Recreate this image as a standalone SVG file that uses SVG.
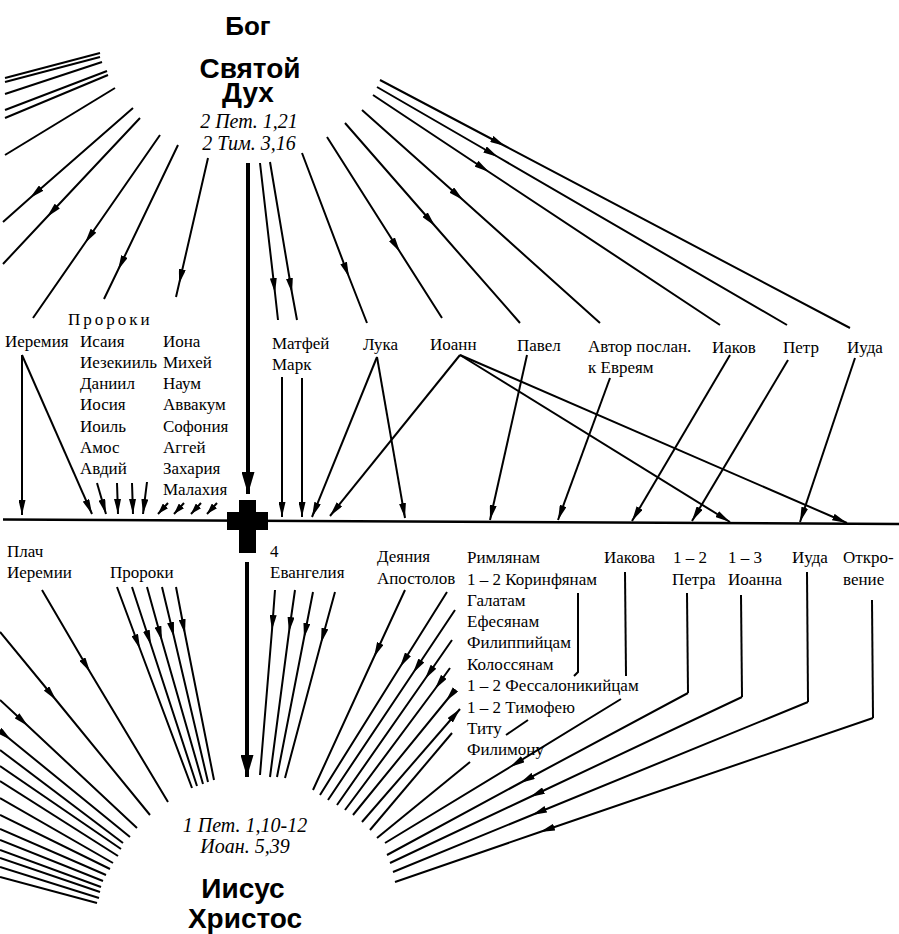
<svg xmlns="http://www.w3.org/2000/svg" width="899" height="934" viewBox="0 0 899 934">
<style>
.t{font-family:"Liberation Serif","Times New Roman",serif;font-size:17px;fill:#000}
.h{font-family:"Liberation Sans",Arial,sans-serif;font-weight:bold;font-size:28px;text-anchor:middle;fill:#000}
.r{font-family:"Liberation Serif","Times New Roman",serif;font-style:italic;font-size:20px;text-anchor:middle;fill:#000}
.c{fill:none;stroke:#000;stroke-width:2}
.a{marker-end:url(#ah)}
.m{marker-mid:url(#ah)}
.s{marker-end:url(#ahs)}
.k{fill:none;stroke:#000;stroke-width:4;marker-end:url(#ahb)}
</style>
<defs>
<marker id="ah" viewBox="0 0 15 7" refX="15" refY="3.5" markerWidth="15" markerHeight="7" markerUnits="userSpaceOnUse" orient="auto"><path d="M0,0 L15,3.5 L0,7 z" fill="#000"/></marker>
<marker id="ahs" viewBox="0 0 11 7" refX="11" refY="3.5" markerWidth="11" markerHeight="7" markerUnits="userSpaceOnUse" orient="auto"><path d="M0,0 L11,3.5 L0,7 z" fill="#000"/></marker>
<marker id="ahb" viewBox="0 0 22 13" refX="22" refY="6.5" markerWidth="22" markerHeight="13" markerUnits="userSpaceOnUse" orient="auto"><path d="M0,0 L22,6.5 L0,13 z" fill="#000"/></marker>
</defs>
<rect width="899" height="934" fill="#fff"/>
<g id="connectors">
<g class="c">
<path d="M5,78 L100,53"/><path d="M5,82 L100,57"/><path d="M5,94 L102,62"/><path d="M5,110 L107,71"/><path d="M5,118 L108,75"/><path d="M5,155 L115,88"/>
</g>
<g class="c m">
<path d="M133,108 L30,198 L3,222"/>
<path d="M140,118 L47,217 L3,264"/>
<path d="M160,135 L85,243 L33,318"/>
<path d="M178,145 L118,270 L104,299"/>
<path d="M208,158 L179,284 L176,297"/>
<path d="M260,163 L275,293 L278,320"/>
<path d="M270,162 L292,293 L297,320"/>
<path d="M302,153 L349,277 L367,323"/>
<path d="M327,137 L400,252 L442,318"/>
<path d="M345,123 L435,226 L520,323"/>
<path d="M362,110 L463,200 L600,323"/>
<path d="M373,95 L489,172 L720,325"/>
<path d="M377,87 L498,157 L787,325"/>
<path d="M380,80 L505,146 L850,328"/>
</g>
<path class="k" d="M248,163 L248,494"/>
<g class="c a">
<path d="M22,355 L22,515"/><path d="M22,355 L92,514"/>
<path d="M97,483 L106,514"/><path d="M117,483 L118,514"/><path d="M132,483 L133,514"/><path d="M147,482 L143,514"/>
<path d="M282,377 L282,517"/><path d="M302,378 L302,517"/>
<path d="M377,357 L312,517"/><path d="M377,357 L405,518"/>
<path d="M460,355 L330,516"/><path d="M460,355 L730,522"/><path d="M460,355 L847,523"/>
<path d="M527,355 L490,520"/><path d="M610,378 L558,520"/><path d="M730,355 L632,521"/><path d="M788,360 L692,521"/><path d="M855,358 L800,522"/>
<path d="M362,822 L460,709"/>
</g>
<g class="c s">
<path d="M168,503 L158,514"/><path d="M184,503 L174,514"/><path d="M201,503 L191,514"/><path d="M217,503 L207,514"/>
</g>
<path d="M3,519.5 L899,524" fill="none" stroke="#000" stroke-width="2.5"/>
<path class="k" d="M247,562 L247,777"/>
<g class="c m">
<path d="M42,590 L90,672 L168,802"/>
<path d="M117,587 L140,649 L192,788"/>
<path d="M132,587 L151,645 L197,786"/>
<path d="M147,587 L162,641 L203,784"/>
<path d="M162,587 L174,637 L208,782"/>
<path d="M176,587 L185,634 L214,780"/>
<path d="M0,632 L56,700 L150,815"/>
<path d="M0,700 L28,726 L137,828"/>
<path d="M0,731 L11,740 L130,837"/>
<path d="M275,590 L272,630 L260,775"/>
<path d="M295,590 L289,632 L270,777"/>
<path d="M313,592 L304,638 L277,777"/>
<path d="M335,592 L321,643 L285,778"/>
<path d="M405,590 L374,657 L313,790"/>
<path d="M447,592 L400,667 L320,795"/>
<path d="M455,610 L413,673 L328,800"/>
<path d="M452,640 L425,679 L337,805"/>
<path d="M450,668 L435,689 L345,810"/>
<path d="M455,690 L446,701 L353,815"/>
<path d="M621,699 L510,767 L385,843"/>
<path d="M688,693 L520,783 L387,855"/>
<path d="M742,697 L530,797 L390,863"/>
<path d="M808,702 L532,815 L393,872"/>
<path d="M873,718 L540,832 L395,882"/>
</g>
<g class="c">
<path d="M0,750 L123,843"/><path d="M0,766 L121,849"/><path d="M0,781 L118,856"/><path d="M0,798 L113,863"/><path d="M0,815 L110,869"/><path d="M0,829 L106,875"/><path d="M0,840 L103,881"/><path d="M0,850 L101,887"/><path d="M0,858 L100,892"/><path d="M0,867 L99,898"/><path d="M0,877 L97,903"/>
<path d="M452,733 L370,830"/><path d="M470,762 L377,838"/><path d="M528,720 L506,735"/>
<path d="M625,572 L626,676"/><path d="M687,593 L688,693"/><path d="M741,595 L742,697"/><path d="M807,572 L808,702"/><path d="M872,600 L873,718"/>
<path d="M578,593 L578,672 L574,676"/>
</g>
</g>
<g id="bog"><text class="h" x="248" y="35" style="font-size:26px">Бог</text></g>
<g id="svyatoy-duh">
<text class="h" x="250" y="78">Святой</text>
<text class="h" x="248" y="102">Дух</text>
<text class="r" x="249" y="128">2 Пет. 1,21</text>
<text class="r" x="249" y="150">2 Тим. 3,16</text>
</g>
<g id="cross"><path d="M239,500 H256 V512 H268 V530 H256 V553 H239 V530 H227 V512 H239 Z" fill="#000"/></g>
<g id="ot-authors" class="t">
<text x="68" y="325" style="letter-spacing:3px">Пророки</text>
<text x="5" y="347">Иеремия</text>
<text x="80" y="347">Исаия</text>
<text x="80" y="368">Иезекииль</text>
<text x="80" y="389">Даниил</text>
<text x="80" y="410">Иосия</text>
<text x="80" y="432">Иоиль</text>
<text x="80" y="453">Амос</text>
<text x="80" y="474">Авдий</text>
<text x="163" y="347">Иона</text>
<text x="163" y="368">Михей</text>
<text x="163" y="389">Наум</text>
<text x="163" y="410">Аввакум</text>
<text x="163" y="432">Софония</text>
<text x="163" y="453">Аггей</text>
<text x="163" y="474">Захария</text>
<text x="163" y="495">Малахия</text>
</g>
<g id="nt-authors" class="t">
<text x="272" y="349">Матфей</text>
<text x="272" y="370">Марк</text>
<text x="363" y="350">Лука</text>
<text x="430" y="350">Иоанн</text>
<text x="517" y="351">Павел</text>
<text x="588" y="352">Автор послан.</text>
<text x="588" y="373">к Евреям</text>
<text x="712" y="353">Иаков</text>
<text x="783" y="353">Петр</text>
<text x="847" y="353">Иуда</text>
</g>
<g id="ot-books" class="t">
<text x="7" y="557">Плач</text>
<text x="7" y="578">Иеремии</text>
<text x="110" y="578">Пророки</text>
</g>
<g id="nt-books" class="t">
<text x="270" y="557">4</text>
<text x="270" y="578">Евангелия</text>
<text x="377" y="562">Деяния</text>
<text x="377" y="584">Апостолов</text>
<text x="467" y="563">Римлянам</text>
<text x="467" y="585">1 – 2 Коринфянам</text>
<text x="467" y="606">Галатам</text>
<text x="467" y="627">Ефесянам</text>
<text x="467" y="648">Филиппийцам</text>
<text x="467" y="670">Колоссянам</text>
<text x="467" y="691">1 – 2 Фессалоникийцам</text>
<text x="467" y="713">1 – 2 Тимофею</text>
<text x="467" y="734">Титу</text>
<text x="467" y="755">Филимону</text>
<text x="604" y="563">Иакова</text>
<text x="673" y="563">1 – 2</text>
<text x="672" y="585">Петра</text>
<text x="728" y="563">1 – 3</text>
<text x="728" y="585">Иоанна</text>
<text x="792" y="563">Иуда</text>
<text x="843" y="563">Откро-</text>
<text x="843" y="585">вение</text>
</g>
<g id="iisus-hristos">
<text class="r" x="245" y="832">1 Пет. 1,10-12</text>
<text class="r" x="245" y="853">Иоан. 5,39</text>
<text class="h" x="243" y="898">Иисус</text>
<text class="h" x="245" y="928">Христос</text>
</g>
</svg>
